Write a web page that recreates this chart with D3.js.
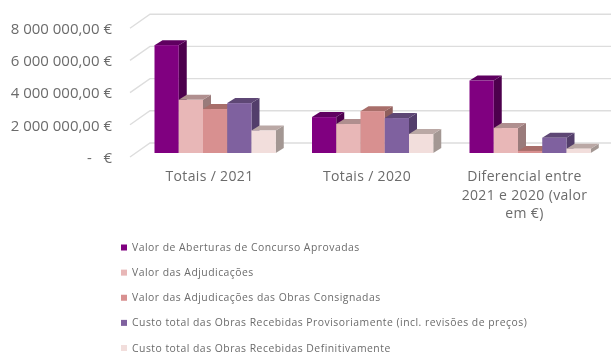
<!DOCTYPE html>
<html><head><meta charset="utf-8">
<script src="https://cdn.jsdelivr.net/npm/d3@7"></script>
<style>html,body{margin:0;padding:0;background:#fff;overflow:hidden}svg{display:block;filter:blur(0.4px)}
text{font-family:"Open Sans","Noto Sans",sans-serif;fill:#6b6b6b}</style></head><body>
<svg id="c" width="611" height="352"></svg>
<script>
const categories=["Totais / 2021","Totais / 2020","Diferencial entre|2021 e 2020 (valor|em €)"];
const seriesNames=["Valor de Aberturas de Concurso Aprovadas","Valor das Adjudicações","Valor das Adjudicações das Obras Consignadas","Custo total das Obras Recebidas Provisoriamente (incl. revisões de preços)","Custo total das Obras Recebidas Definitivamente"];
const aberturas=[6700000,2230000,4500000];
const adjudicacoes=[3300000,1800000,1550000];
const consignadas=[2730000,2600000,130000];
const provisorias=[3100000,2170000,950000];
const definitivas=[1400000,1180000,270000];
const yTicks=[0,2000000,4000000,6000000,8000000];
const frontColors=["#800080","#E8B7B7","#D89090","#7F619F","#F2DEDC"];
const topColors=["#5F0060","#B08F8F","#A86E6A","#5E4775","#BAA8A5"];
const sideColors=["#4D004D","#9A7B7B","#8F5F5C","#533E6B","#A39793"];
const seriesValues=[aberturas,adjudicacoes,consignadas,provisorias,definitivas];

const svg=d3.select("#c");
const y=d3.scaleLinear().domain([0,8000000]).range([153,24.2]);
const x0=d3.scaleBand().domain(categories).range([130.25,602.75]);
const x1=d3.scaleBand().domain(d3.range(5)).range([24.25,145.5]);
const depthX=8,depthY=5;

// gridlines
const grid=svg.append("g").attr("fill","none").attr("stroke","#DDDDDD").attr("stroke-width",1.4);
yTicks.forEach(t=>{
  grid.append("path").attr("d",d3.line()([[130,y(t)+4],[150,y(t)-10],[611,y(t)-10]]));
});

// y axis
const fmt=v=>v===0?"-\u00A0\u00A0\u00A0€":d3.format(",.2f")(v).replace(/,/g," ").replace(".",",")+" €";
const ax=svg.append("g").attr("transform","translate(112,4.5)")
  .call(d3.axisLeft(y).tickValues(yTicks).tickFormat(fmt).tickSize(0).tickPadding(0));
ax.select(".domain").remove();
ax.selectAll("text").attr("font-size",15).style("font-family",'"Open Sans","Noto Sans",sans-serif').style("fill","#6b6b6b");

// bars
categories.forEach((c,ci)=>{
  const g=svg.append("g").attr("transform",`translate(${x0(c)},0)`);
  seriesValues.forEach((vals,si)=>{
    const v=vals[ci],l=x1(si),w=x1.bandwidth(),r=l+w,t=y(v),b=y(0);
    g.append("path").attr("fill",sideColors[si]).attr("d",d3.line()([[r,t],[r+depthX,t-depthY],[r+depthX,b-depthY],[r,b]])+"Z");
    g.append("path").attr("fill",topColors[si]).attr("d",d3.line()([[l,t],[l+depthX,t-depthY],[r+depthX,t-depthY],[r,t]])+"Z");
    g.append("rect").attr("x",l).attr("y",t).attr("width",w).attr("height",b-t).attr("fill",frontColors[si]);
  });
  const lines=c.split("|");
  const tx=g.append("text").attr("text-anchor","middle").attr("font-size",14).attr("letter-spacing",0.35);
  lines.forEach((s,i)=>tx.append("tspan").attr("x",x0.bandwidth()/2+0.5).attr("y",181+i*18.5).text(s));
});

// legend
const ly=d3.scalePoint().domain(d3.range(5)).range([247.5,348]);
const leg=svg.append("g");
seriesNames.forEach((n,i)=>{
  leg.append("rect").attr("x",121).attr("y",ly(i)-3).attr("width",6).attr("height",6).attr("fill",frontColors[i]);
  leg.append("text").attr("x",132).attr("y",ly(i)+3.6).attr("font-size",10.4).attr("letter-spacing",0.48).text(n);
});
</script></body></html>
